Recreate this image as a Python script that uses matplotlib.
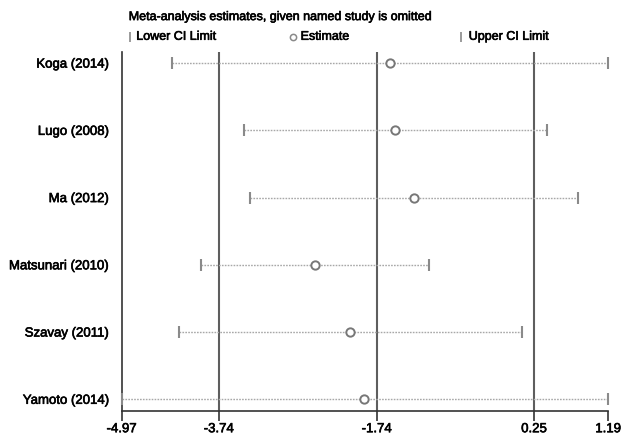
import matplotlib
matplotlib.use("Agg")
import matplotlib.pyplot as plt
import matplotlib.patheffects as pe

plt.rcParams['font.family'] = ['Liberation Sans', 'DejaVu Sans']

# influence analysis: pooled estimate with each study left out in turn
studies = ['Koga (2014)', 'Lugo (2008)', 'Ma (2012)',
           'Matsunari (2010)', 'Szavay (2011)', 'Yamoto (2014)']
estimate = [-1.57, -1.51, -1.27, -2.52, -2.08, -1.90]
lower = [-4.33, -3.42, -3.34, -3.96, -4.25, -4.97]
upper = [1.19, 0.41, 0.81, -1.08, 0.10, 1.19]

# overall estimate and its CI, plus the axis extremes
overall = [-3.74, -1.74, 0.25]
xmin, xmax = -4.97, 1.19
xticks = [-4.97, -3.74, -1.74, 0.25, 1.19]
xticklabels = ['-4.97', '-3.74', '-1.74', '0.25', '1.19']

grey_dot = '#a8a8a8'
grey_mark = '#8a8a8a'
grey_line = '#5e5e5e'

# slightly heavier text strokes
heavy = [pe.withStroke(linewidth=0.45, foreground='black')]

fig = plt.figure(figsize=(6.25, 4.38), dpi=100)
ax = fig.add_axes([0.1947, 0.0623, 0.9733 - 0.1947, 0.882 - 0.0623])

ypos = list(range(1, len(studies) + 1))

for v in overall:
    ax.axvline(v, color=grey_line, lw=1.5, zorder=1)

for y, lo, est, hi in zip(ypos, lower, estimate, upper):
    ax.plot([lo, hi], [y, y], color=grey_dot, lw=1.0, ls=(0, (1.2, 0.9)), zorder=2)
    ax.plot([lo, hi], [y, y], ls='none', marker='|', ms=9, mew=1.5,
            color=grey_mark, zorder=3, clip_on=False)
    ax.plot(est, y, ls='none', marker='o', ms=6, mfc='white', mec='#777777',
            mew=1.4, zorder=4)

ax.set_xlim(xmin, xmax)
ax.set_ylim(6.17, 0.83)
ax.set_yticks(ypos)
ax.set_yticklabels(studies, fontsize=9.5)
ax.tick_params(axis='y', length=0, pad=9)
ax.set_xticks(xticks)
ax.set_xticklabels(xticklabels, fontsize=9.5)
ax.tick_params(axis='x', length=7, width=1.2, color='#333333', pad=2)
for lab in ax.get_xticklabels() + ax.get_yticklabels():
    lab.set_path_effects(heavy)

for side in ['top', 'right']:
    ax.spines[side].set_visible(False)
for side in ['left', 'bottom']:
    ax.spines[side].set_color('#333333')
    ax.spines[side].set_linewidth(1.2)

# header and key above the plot
fig.text(0.206, 0.961, 'Meta-analysis estimates, given named study is omitted',
         fontsize=9, va='center', ha='left', path_effects=heavy)
row_y = 0.916
key = [(0.208, '|', 0.218, 'Lower CI Limit'),
       (0.469, 'o', 0.481, 'Estimate'),
       (0.738, '|', 0.750, 'Upper CI Limit')]
for mx, m, tx, label in key:
    if m == 'o':
        ax.plot(mx, row_y, transform=fig.transFigure, marker='o', ms=4.5,
                mfc='white', mec=grey_mark, mew=1.1, clip_on=False)
    else:
        ax.plot(mx, row_y, transform=fig.transFigure, marker='|', ms=7,
                mew=1.2, color=grey_mark, clip_on=False)
    fig.text(tx, row_y, label, fontsize=9, va='center', ha='left',
             path_effects=heavy)

fig.savefig('out.png', dpi=100)
